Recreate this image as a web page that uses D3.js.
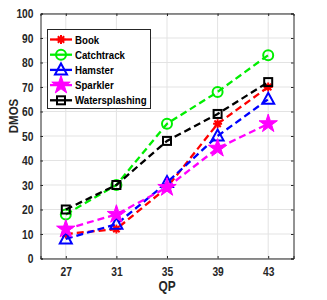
<!DOCTYPE html>
<html><head><meta charset="utf-8">
<script src="https://cdnjs.cloudflare.com/ajax/libs/d3/7.8.5/d3.min.js"></script>
<style>body{margin:0;background:#fff}svg{display:block}text{font-family:"Liberation Sans",Arial,sans-serif}</style>
</head><body>
<svg id="c" width="327" height="300"></svg>
<script>
const qp = [27, 31, 35, 39, 43];
const xTicks = [27, 31, 35, 39, 43];
const yTicks = [0,10,20,30,40,50,60,70,80,90,100];
const seriesNames = ["Book","Catchtrack","Hamster","Sparkler","Watersplashing"];
const book = [10, 12, 29, 55, 70];
const catchtrack = [18, 30, 55, 68, 83];
const hamster = [8, 14, 31, 50, 65];
const sparkler = [12, 18, 29, 45, 55];
const watersplashing = [20, 30, 48, 59, 72];
const colors = ["#ff0000","#00ee00","#0000ff","#ff00ff","#000000"];
const markers = ["asterisk","circle","triangle","star","square"];
const allVals = [book, catchtrack, hamster, sparkler, watersplashing];

const svg = d3.select("#c");
const L=40.5, R=293.5, T=13.5, B=258.5;
const x = d3.scaleLinear().domain([25,45]).range([L,R]);
const y = d3.scaleLinear().domain([0,100]).range([B,T]);

function condense(sel, f){
  sel.each(function(){
    const w = this.getComputedTextLength();
    d3.select(this).attr("textLength", w*f).attr("lengthAdjust","spacingAndGlyphs");
  });
}

// grid
svg.append("g").selectAll("line").data(xTicks).join("line")
  .attr("x1",d=>x(d)).attr("x2",d=>x(d)).attr("y1",T).attr("y2",B)
  .attr("stroke","#e3e3e3").attr("stroke-width",1);
svg.append("g").selectAll("line").data(yTicks).join("line")
  .attr("y1",d=>y(d)).attr("y2",d=>y(d)).attr("x1",L).attr("x2",R)
  .attr("stroke","#e3e3e3").attr("stroke-width",1);

// axes
const xa = svg.append("g").attr("transform",`translate(0,${B})`)
  .call(d3.axisBottom(x).tickValues(xTicks).tickSize(-2.5).tickPadding(9));
const xt = svg.append("g").attr("transform",`translate(0,${T})`)
  .call(d3.axisTop(x).tickValues(xTicks).tickSize(-2.5).tickFormat(""));
const ya = svg.append("g").attr("transform",`translate(${L},0)`)
  .call(d3.axisLeft(y).tickValues(yTicks).tickSize(-2.5).tickPadding(7));
const yr = svg.append("g").attr("transform",`translate(${R},0)`)
  .call(d3.axisRight(y).tickValues(yTicks).tickSize(-2.5).tickFormat(""));
[xa,xt,ya,yr].forEach(g=>{
  g.selectAll("path").attr("stroke","#262626").attr("stroke-width",1);
  g.selectAll("line").attr("stroke","#262626");
  g.selectAll("text").attr("font-size",12.5).attr("font-weight","bold").attr("fill","#262626");
  condense(g.selectAll("text"), 0.82);
});

const qpT = svg.append("text").attr("x",(L+R)/2).attr("y",291).attr("text-anchor","middle")
  .attr("font-size",14).attr("font-weight","bold").attr("fill","#262626").text("QP");
condense(qpT, 0.85);
const dT = svg.append("text").attr("transform",`translate(18,116) rotate(-90)`).attr("text-anchor","middle")
  .attr("font-size",13.5).attr("font-weight","bold").attr("fill","#262626").text("DMOS");
condense(dT, 0.85);

function drawMarker(g, type, color, cx, cy){
  if(type==="circle"){
    g.append("circle").attr("cx",cx).attr("cy",cy).attr("r",5).attr("fill","none").attr("stroke",color).attr("stroke-width",2);
  } else if(type==="triangle"){
    g.append("path").attr("d",`M${cx},${cy-6.5}L${cx+6},${cy+4.5}L${cx-6},${cy+4.5}Z`).attr("fill","none").attr("stroke",color).attr("stroke-width",2);
  } else if(type==="square"){
    g.append("rect").attr("x",cx-4).attr("y",cy-4).attr("width",8).attr("height",8).attr("fill","none").attr("stroke",color).attr("stroke-width",2);
  } else if(type==="star"){
    g.append("path").attr("d",d3.symbol().type(d3.symbolStar).size(105)()).attr("transform",`translate(${cx},${cy})`)
      .attr("fill",color).attr("stroke",color).attr("stroke-width",1);
  } else if(type==="asterisk"){
    g.append("circle").attr("cx",cx).attr("cy",cy).attr("r",3).attr("fill",color);
    for(let a=0;a<4;a++){
      const ang=a*Math.PI/4;
      g.append("line").attr("x1",cx-4.5*Math.cos(ang)).attr("y1",cy-4.5*Math.sin(ang))
        .attr("x2",cx+4.5*Math.cos(ang)).attr("y2",cy+4.5*Math.sin(ang)).attr("stroke",color).attr("stroke-width",2);
    }
  }
}

const line = d3.line().x((d,i)=>x(qp[i])).y(d=>y(d));
allVals.forEach((vals,k)=>{
  const g = svg.append("g");
  g.append("path").attr("d",line(vals)).attr("fill","none").attr("stroke",colors[k])
    .attr("stroke-width",2.3).attr("stroke-dasharray","7,4");
  vals.forEach((v,i)=>drawMarker(g, markers[k], colors[k], x(qp[i]), y(v)));
});

// legend
const lg = svg.append("g");
lg.append("rect").attr("x",47.5).attr("y",29.5).attr("width",103).attr("height",79)
  .attr("fill","#fff").attr("stroke","#262626").attr("stroke-width",1);
seriesNames.forEach((n,k)=>{
  const cy = 39.5 + k*15.2;
  lg.append("line").attr("x1",50).attr("x2",72).attr("y1",cy).attr("y2",cy)
    .attr("stroke",colors[k]).attr("stroke-width",2.3);
  drawMarker(lg, markers[k], colors[k], 61, cy);
  const t = lg.append("text").attr("x",75).attr("y",cy+4).attr("font-size",11.5).attr("font-weight","bold")
    .attr("fill","#000").text(n);
  condense(t, 0.84);
});
</script>
</body></html>
